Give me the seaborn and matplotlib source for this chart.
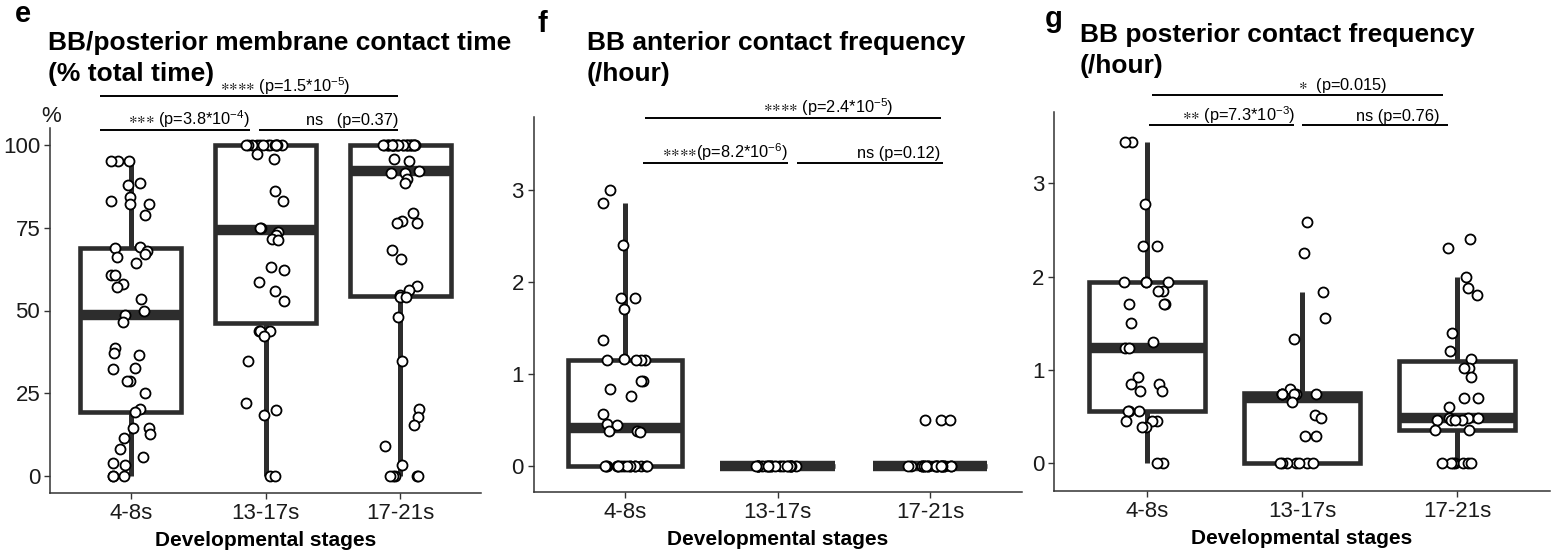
import numpy as np
import pandas as pd
import matplotlib
matplotlib.use("Agg")
import matplotlib.pyplot as plt
import seaborn as sns

# ---------------------------------------------------------------- data
stages = ["4-8s", "13-17s", "17-21s"]

# e: BB / posterior membrane contact time (% of total time)
contact_time_4_8 = [95, 95, 95, 88.4, 87.8, 84.3, 83.1, 82.0, 82.0, 78.8,
                    69.2, 68.9, 67.8, 67.1, 66.1, 64.2, 60.6, 60.6, 58.0, 57.1,
                    53.5, 50.0, 48.6, 46.6, 38.6, 37.1, 36.5, 32.6, 32.3, 28.9,
                    28.7, 25.1, 20.2, 19.4, 14.6, 14.6, 12.7, 11.5, 8.3, 5.8,
                    4.1, 3.4, 0, 0, 0]
contact_time_13_17 = [100, 100, 100, 100, 100, 100, 100, 100, 100, 100,
                      100, 100, 100, 97.2, 95.8, 85.9, 83.1, 74.8, 74.8, 73.8,
                      72.8, 71.6, 71.3, 63.0, 62.3, 58.6, 55.9, 53.0, 43.9, 43.7,
                      43.7, 42.3, 34.8, 22.0, 19.9, 18.4, 0, 0]
contact_time_17_21 = [100, 100, 100, 100, 100, 100, 100, 100, 100, 100,
                      100, 100, 100, 100, 100, 100, 100, 100, 100, 100,
                      100, 100, 100, 100, 100, 95.8, 95.2, 92.0, 91.4, 91.4,
                      89.7, 88.3, 79.3, 77.1, 76.3, 76.3, 68.1, 65.4, 57.4, 56.2,
                      54.7, 54.1, 54.0, 48.0, 34.8, 20.2, 17.8, 15.6, 9.1, 3.4,
                      0, 0, 0, 0, 0]

# f: BB anterior contact frequency (/hour)
anterior_freq_4_8 = [3.00, 2.86, 2.40, 1.83, 1.83, 1.71, 1.37, 1.16, 1.15, 1.15,
                     1.15, 1.15, 0.92, 0.92, 0.84, 0.76, 0.57, 0.46, 0.45, 0.38,
                     0.38, 0.37, 0, 0, 0, 0, 0, 0, 0, 0,
                     0, 0, 0, 0, 0, 0, 0, 0]
anterior_freq_13_17 = [0, 0, 0, 0, 0, 0, 0, 0, 0, 0, 0,
                       0, 0, 0, 0, 0, 0, 0, 0, 0, 0, 0]
anterior_freq_17_21 = [0.5, 0.5, 0.5, 0, 0, 0, 0, 0, 0, 0, 0, 0,
                       0, 0, 0, 0, 0, 0, 0, 0, 0, 0, 0, 0]

# g: BB posterior contact frequency (/hour)
posterior_freq_4_8 = [3.44, 3.44, 2.78, 2.33, 2.33, 1.94, 1.94, 1.94, 1.94, 1.85,
                      1.85, 1.71, 1.71, 1.71, 1.50, 1.30, 1.24, 1.24, 0.92, 0.85,
                      0.85, 0.77, 0.77, 0.56, 0.56, 0.56, 0.45, 0.45, 0.45, 0.39,
                      0.39, 0, 0]
posterior_freq_13_17 = [2.58, 2.25, 1.84, 1.56, 1.33, 0.80, 0.74, 0.74, 0.74, 0.74,
                        0.74, 0.74, 0.66, 0.52, 0.48, 0.29, 0.29, 0, 0, 0,
                        0, 0, 0, 0]
posterior_freq_17_21 = [2.40, 2.31, 2.00, 1.88, 1.80, 1.40, 1.20, 1.12, 1.02, 1.02,
                        0.92, 0.70, 0.70, 0.60, 0.49, 0.49, 0.49, 0.46, 0.46, 0.46,
                        0.46, 0.36, 0.36, 0, 0, 0, 0, 0, 0, 0]

# pairwise test labels: (4-8s vs 17-21s, 4-8s vs 13-17s, 13-17s vs 17-21s)
S4 = r"${\ast}{\ast}{\ast}{\ast}$"
S3 = r"${\ast}{\ast}{\ast}$"
S2 = r"${\ast}{\ast}$"
S1 = r"${\ast}$"
sig_e = [S4 + " (p=1.5*10$^{-5}$)", S3 + " (p=3.8*10$^{-4}$)", "ns   (p=0.37)"]
sig_f = [S4 + " (p=2.4*10$^{-5}$)", S4 + "(p=8.2*10$^{-6}$)", "ns (p=0.12)"]
sig_g = [S1 + "  (p=0.015)", S2 + " (p=7.3*10$^{-3}$)", "ns (p=0.76)"]

title_lines = [["BB/posterior membrane contact time", "(% total time)"],
               ["BB anterior contact frequency", "(/hour)"],
               ["BB posterior contact frequency", "(/hour)"]]
panel_letters = ["e", "f", "g"]

# ---------------------------------------------------------------- style
sns.set_theme(style="ticks")
plt.rcParams["font.family"] = ["Liberation Sans", "DejaVu Sans"]
plt.rcParams["mathtext.default"] = "regular"
plt.rcParams["text.color"] = "black"

W, H = 1562, 554
fig = plt.figure(figsize=(W / 100, H / 100), dpi=100)
BOX = "#2d2d2d"
AXIS = "#333333"


def px_axes(left, right, top, bottom):
    return fig.add_axes([left / W, 1 - bottom / H, (right - left) / W, (bottom - top) / H])


def draw_panel(ax, groups, ylim, yticks):
    df = pd.DataFrame({
        "stage": np.repeat(stages, [len(g) for g in groups]),
        "value": np.concatenate([np.asarray(g, float) for g in groups]),
    })
    sns.boxplot(data=df, x="stage", y="value", order=stages, ax=ax,
                width=0.75, color="white", saturation=1, linecolor=BOX,
                linewidth=3.3, showfliers=False, whis=1.5,
                medianprops=dict(linewidth=7.5, color=BOX, solid_capstyle="butt"),
                whiskerprops=dict(linewidth=3.6, color=BOX),
                capprops=dict(visible=False))
    np.random.seed(11)
    sns.stripplot(data=df, x="stage", y="value", order=stages, ax=ax,
                  jitter=0.15, color="white", edgecolor="black",
                  linewidth=1.3, size=7.2, zorder=5)
    ax.set_xlim(-0.6, 2.6)
    ax.set_ylim(*ylim)
    ax.set_yticks(yticks)
    sns.despine(ax=ax)
    for side in ("left", "bottom"):
        ax.spines[side].set_linewidth(1.1)
        ax.spines[side].set_color(AXIS)
    ax.tick_params(axis="both", length=4, width=1.0, color=AXIS,
                   labelsize=16, labelcolor="#1a1a1a")
    ax.tick_params(axis="y", pad=3)
    ax.tick_params(axis="x", pad=3)
    ax.set_xlabel("Developmental stages", fontsize=15, fontweight="bold",
                  labelpad=5, color="black")
    ax.set_ylabel("")


def bracket(ax, x0, x1, y, label, x_text):
    ax.plot([x0, x1], [y, y], color="black", lw=1.4, clip_on=False,
            solid_capstyle="butt")
    ax.annotate(label, xy=(x_text, y), xytext=(0, 3.5), textcoords="offset points",
                ha="right", va="baseline", fontsize=11.8, color="black",
                annotation_clip=False)


# ---------------------------------------------------------------- panel e
ax_e = px_axes(50, 481, 128, 493)
draw_panel(ax_e, [contact_time_4_8, contact_time_13_17, contact_time_17_21],
           (-5, 105), [0, 25, 50, 75, 100])
ax_e.set_ylabel("%", rotation=0, fontsize=16, ha="center", va="center",
                color="#1a1a1a")
ax_e.yaxis.set_label_coords(0.002, 1.032)
bracket(ax_e, -0.23, 1.985, 114.5, sig_e[0], 1.63)
bracket(ax_e, -0.23, 0.885, 104.5, sig_e[1], 0.885)
bracket(ax_e, 0.95, 1.985, 104.5, sig_e[2], 1.985)

# ---------------------------------------------------------------- panel f
ax_f = px_axes(533.5, 1021.5, 117, 492)
draw_panel(ax_f, [anterior_freq_4_8, anterior_freq_13_17, anterior_freq_17_21],
           (-0.283, 3.793), [0, 1, 2, 3])
bracket(ax_f, 0.13, 2.07, 3.78, sig_f[0], 1.76)
bracket(ax_f, 0.12, 1.07, 3.29, sig_f[1], 1.07)
bracket(ax_f, 1.13, 2.085, 3.29, sig_f[2], 2.07)

# ---------------------------------------------------------------- panel g
ax_g = px_axes(1054, 1550, 112, 491)
draw_panel(ax_g, [posterior_freq_4_8, posterior_freq_13_17, posterior_freq_17_21],
           (-0.297, 3.764), [0, 1, 2, 3])
bracket(ax_g, 0.03, 1.91, 3.95, sig_g[0], 1.55)
bracket(ax_g, 0.01, 0.95, 3.62, sig_g[1], 0.96)
bracket(ax_g, 1.00, 1.94, 3.62, sig_g[2], 1.89)

# ---------------------------------------------------------------- titles
# (left x, baseline of first line) in pixels; second line 31 px lower
title_pos = [(48, 50), (587, 50), (1080, 42)]
letter_pos = [(15, 22), (538, 32), (1045, 27)]
for lines, (tx, ty), letter, (lx, ly) in zip(title_lines, title_pos, panel_letters, letter_pos):
    for i, line in enumerate(lines):
        fig.text(tx / W, 1 - (ty + 31 * i) / H, line, fontsize=19,
                 fontweight="bold", ha="left", va="baseline", color="black")
    fig.text(lx / W, 1 - ly / H, letter, fontsize=21, fontweight="bold",
             ha="left", va="baseline", color="black")

fig.savefig("out.png", dpi=100)
